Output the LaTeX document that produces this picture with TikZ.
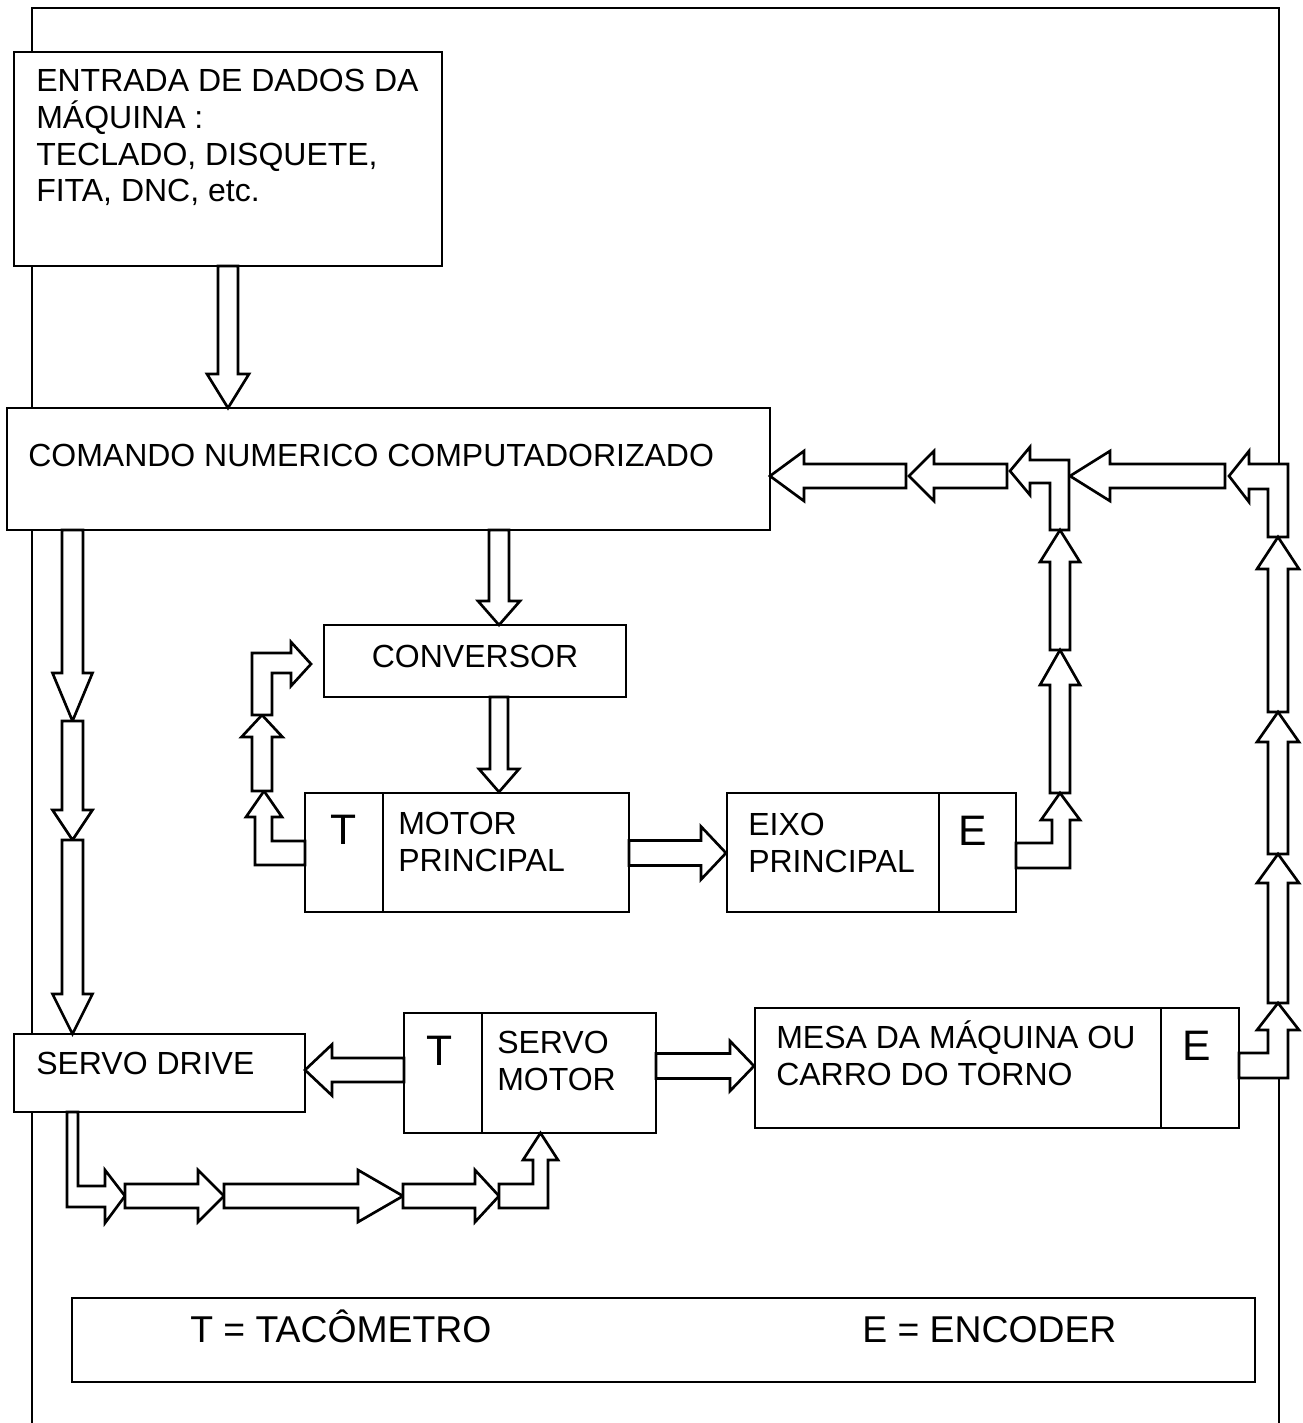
\documentclass[tikz,border=0pt]{standalone}
\usepackage{fontspec}
\setmainfont{Liberation Sans}
\usetikzlibrary{fit}
\newcommand{\arrdown}[6]{\draw[blk] (#1-#4,#2) -- (#1-#4,#3-#6) -- (#1-#5,#3-#6) -- (#1,#3) -- (#1+#5,#3-#6) -- (#1+#4,#3-#6) -- (#1+#4,#2) -- cycle;}
\newcommand{\arrup}[6]{\draw[blk] (#1-#4,#2) -- (#1-#4,#3+#6) -- (#1-#5,#3+#6) -- (#1,#3) -- (#1+#5,#3+#6) -- (#1+#4,#3+#6) -- (#1+#4,#2) -- cycle;}
\newcommand{\arrright}[6]{\draw[blk] (#2,#1-#4) -- (#3-#6,#1-#4) -- (#3-#6,#1-#5) -- (#3,#1) -- (#3-#6,#1+#5) -- (#3-#6,#1+#4) -- (#2,#1+#4) -- cycle;}
\newcommand{\arrleft}[6]{\draw[blk] (#2,#1-#4) -- (#3+#6,#1-#4) -- (#3+#6,#1-#5) -- (#3,#1) -- (#3+#6,#1+#5) -- (#3+#6,#1+#4) -- (#2,#1+#4) -- cycle;}
\begin{document}
\begin{tikzpicture}[x=0.75pt,y=-0.75pt,
  boxst/.style={draw, fill=white, inner sep=0pt, line width=2pt},
  blk/.style={draw, fill=white, line width=2pt, line join=miter},
  txt/.style={inner sep=0pt, font=\fontsize{24}{28}\selectfont, anchor=base west},
  txtc/.style={inner sep=0pt, font=\fontsize{24}{28}\selectfont, anchor=base},
  big/.style={inner sep=0pt, font=\fontsize{32}{36}\selectfont, anchor=base},
  leg/.style={inner sep=0pt, font=\fontsize{28}{32}\selectfont, anchor=base west}]
\useasboundingbox (0,0) rectangle (1302,1423);
% outer frame
\draw[line width=2pt] (32,1423) -- (32,8) -- (1279,8) -- (1279,1423);
% boxes
\node[boxst, fit={(14,52) (442,266)}] (entrada) {};
\node[boxst, fit={(7,408) (770,530)}] (cnc) {};
\node[boxst, fit={(324,625) (626,697)}] (conv) {};
\node[boxst, fit={(305,793) (629,912)}] (motor) {};
\node[boxst, fit={(727,793) (1016,912)}] (eixo) {};
\node[boxst, fit={(14,1034) (305,1112)}] (drive) {};
\node[boxst, fit={(404,1013) (656,1133)}] (servo) {};
\node[boxst, fit={(755,1008) (1239,1128)}] (mesa) {};
\node[boxst, fit={(72,1298) (1255,1382)}] (legend) {};
\draw[line width=2pt] (383,793) -- (383,912);
\draw[line width=2pt] (939,793) -- (939,912);
\draw[line width=2pt] (482,1013) -- (482,1133);
\draw[line width=2pt] (1161,1008) -- (1161,1128);
% texts
\node[txt] (e1) at (36,92) {ENTRADA DE DADOS DA};
\node[txt] (e2) at (36,129) {MÁQUINA :};
\node[txt] (e3) at (36,166) {TECLADO, DISQUETE,};
\node[txt] (e4) at (36,202) {FITA, DNC, etc.};
\node[txt] (cnct) at (28,466) {COMANDO NUMERICO COMPUTADORIZADO};
\node[txtc] (convt) at (475,667) {CONVERSOR};
\node[big] (tm) at (344,844) {T};
\node[txt] (m1) at (398,834) {MOTOR};
\node[txt] (m2) at (398,871) {PRINCIPAL};
\node[txt] (x1) at (748,835) {EIXO};
\node[txt] (x2) at (748,872) {PRINCIPAL};
\node[big] (ex) at (973,845) {E};
\node[txt] (dt) at (36,1074) {SERVO DRIVE};
\node[big] (ts) at (440,1065) {T};
\node[txt] (s1) at (497,1053) {SERVO};
\node[txt] (s2) at (497,1090) {MOTOR};
\node[txt] (me1) at (776,1048) {MESA DA MÁQUINA OU};
\node[txt] (me2) at (776,1085) {CARRO DO TORNO};
\node[big] (em) at (1197,1060) {E};
\node[leg] (l1) at (190,1342) {T = TACÔMETRO};
\node[leg] (l2) at (862,1342) {E = ENCODER};
% arrows: data flow
\arrdown{228}{266}{408}{10}{21}{34}
\arrdown{499}{530}{625}{10}{21}{24}
\arrdown{499}{697}{792}{9}{20}{23}
% left column to servo drive
\arrdown{72.5}{530}{721}{10.5}{20}{48}
\arrdown{72.5}{721}{840}{10.5}{20}{30}
\arrdown{72.5}{840}{1034}{10.5}{20}{40}
% motor -> eixo, servo motor -> drive / mesa
\arrright{853}{629}{726}{12.5}{26.5}{25}
\arrleft{1070}{404}{305}{12}{25.5}{27}
\arrright{1066}{656}{754}{12.5}{25}{24}
% top return row
\arrleft{476}{906}{770}{12}{25}{34}
\arrleft{476}{1007}{909}{12}{25}{25}
\arrleft{476}{1225}{1070}{12}{25}{40}
\draw[blk] (1010,471) -- (1030,447) -- (1030,460) -- (1069,460) -- (1069,530) -- (1050,530) -- (1050,483) -- (1030,483) -- (1030,495) -- cycle;
\draw[blk] (1229,476) -- (1249,451) -- (1249,464) -- (1288,464) -- (1288,537) -- (1268,537) -- (1268,489) -- (1249,489) -- (1249,502) -- cycle;
% eixo encoder column
\arrup{1060}{650}{530}{10}{20}{32}
\arrup{1060}{793}{650}{10}{20}{35}
\draw[blk] (1060,793) -- (1080,820) -- (1070,820) -- (1070,868) -- (1016,868) -- (1016,843) -- (1052,843) -- (1052,820) -- (1041,820) -- cycle;
% mesa encoder column
\arrup{1278}{712}{537}{10}{21}{32}
\arrup{1278}{854}{712}{10}{21}{30}
\arrup{1278}{1003}{854}{10}{21}{29}
\draw[blk] (1278,1003) -- (1299,1030) -- (1288,1030) -- (1288,1078) -- (1239,1078) -- (1239,1053) -- (1268,1053) -- (1268,1030) -- (1257,1030) -- cycle;
% tachometer of main motor
\draw[blk] (264,791) -- (282,817) -- (272,817) -- (272,841) -- (305,841) -- (305,865) -- (255,865) -- (255,817) -- (246,817) -- cycle;
\arrup{262}{791}{715}{10}{20.5}{22}
\draw[blk] (252,715) -- (252,653) -- (291,653) -- (291,642) -- (311,664) -- (291,686) -- (291,673) -- (272,673) -- (272,715) -- cycle;
% tachometer of servo motor
\draw[blk] (67,1112) -- (78,1112) -- (78,1186) -- (105,1186) -- (105,1170) -- (125,1196) -- (105,1223) -- (105,1207) -- (67,1207) -- cycle;
\arrright{1196}{125}{224}{12}{26}{26}
\arrright{1196}{224}{403}{12}{26}{45}
\arrright{1196}{403}{499}{12}{26}{24}
\draw[blk] (499,1184) -- (533,1184) -- (533,1160) -- (523,1160) -- (540.5,1133) -- (558,1160) -- (548,1160) -- (548,1208) -- (499,1208) -- cycle;
\end{tikzpicture}
\end{document}
